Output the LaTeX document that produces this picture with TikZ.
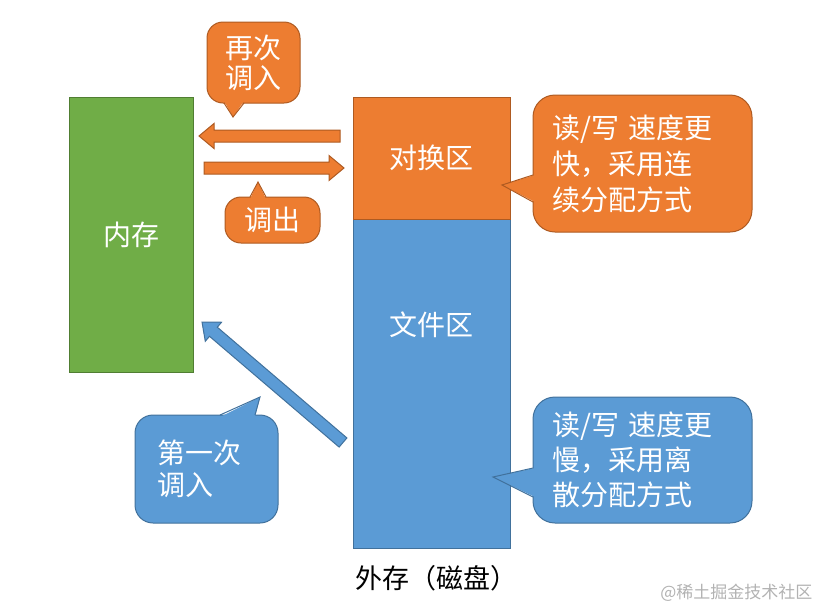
\documentclass[tikz,border=0pt]{standalone}
\usepackage{fontspec}
\newfontfamily\cjk{Noto Sans CJK SC}
\usetikzlibrary{calc}
\definecolor{memgreen}{HTML}{70AD47}
\definecolor{memgreenline}{HTML}{507E32}
\definecolor{swaporange}{HTML}{ED7D31}
\definecolor{swaporangeline}{HTML}{AE5A21}
\definecolor{fileblue}{HTML}{5B9BD5}
\definecolor{fileblueline}{HTML}{41719C}
\tikzset{
  block/.style={rectangle, fill=#1, draw=#1line, line width=1pt, text=white, inner sep=0pt, font=\cjk\fontsize{28}{34}\selectfont},
  bubble/.style={block=#1, rounded corners=16pt, align=left},
}
\newcommand\pointer[5]{%
  \fill[#1] ($(#2)+(#5)$) -- (#3) -- ($(#4)+(#5)$) -- cycle;
  \draw[#1line, line width=1pt] (#2) -- (#3) -- (#4);
}
\newcommand\blockarrow[3]{%
  \filldraw[fill=#1, draw=#1line, line width=1pt] let \p1=(#2), \p2=(#3),
    \n1={atan2(\y2-\y1,\x2-\x1)}, \n2={veclen(\x2-\x1,\y2-\y1)} in
    [shift={(\p1)}, rotate=\n1] (0pt,6pt) -- (\n2-15pt,6pt) -- (\n2-15pt,12.5pt) -- (\n2,0pt)
    -- (\n2-15pt,-12.5pt) -- (\n2-15pt,-6pt) -- (0pt,-6pt) -- cycle;
}
\begin{document}
\begin{tikzpicture}[x=1pt, y=-1pt, font=\cjk]
\useasboundingbox (0,0) rectangle (824,611);
\node[block=memgreen, minimum width=124pt, minimum height=275pt] (mem) at (131,234.5) {内存};
\node[block=fileblue, minimum width=157pt, minimum height=329pt] (file) at (431.5,383.5) {};
\node[block=swaporange, minimum width=157pt, minimum height=122pt] (swap) at (431.5,158) {对换区};
\node[text=white, font=\cjk\fontsize{28}{34}\selectfont] (filename) at (431.5,325) {文件区};
\node[font=\cjk\fontsize{27}{32}\selectfont] (disk) at (436,578) {外存（磁盘）};
\node[text=black!30, font=\cjk\fontsize{17}{20}\selectfont, anchor=east] (mark) at (816,593) {@稀土掘金技术社区};

\coordinate (backstart) at (340,136);
\coordinate (backend) at (199,136);
\coordinate (outstart) at (204,168);
\coordinate (outend) at (344,168);
\coordinate (firststart) at (343,442.5);
\coordinate (firstend) at (202,322);
\blockarrow{swaporange}{backstart}{backend}
\blockarrow{swaporange}{outstart}{outend}
\blockarrow{fileblue}{firststart}{firstend}

\node[bubble=swaporange, minimum width=93pt, minimum height=81pt, align=center, font=\cjk\fontsize{28}{30}\selectfont] (again) at (253.5,62.5) {再次\\调入};
\pointer{swaporange}{224,103}{233,117}{244,103}{0,-2}
\node[bubble=swaporange, minimum width=95pt, minimum height=46pt] (out) at (272.5,220) {调出};
\pointer{swaporange}{250,197}{258,182}{266,197}{0,2}
\node[bubble=swaporange, rounded corners=22pt, text width=180pt, minimum width=219pt, minimum height=137pt, font=\cjk\fontsize{28}{36}\selectfont] (fast) at (642.5,163.5) {读/写 速度更\\快，采用连\\续分配方式};
\pointer{swaporange}{533,175}{502,185}{533,202}{2,0}
\node[bubble=fileblue, rounded corners=22pt, text width=180pt, minimum width=219pt, minimum height=126pt, font=\cjk\fontsize{28}{35}\selectfont] (slow) at (642.5,460) {读/写 速度更\\慢，采用离\\散分配方式};
\pointer{fileblue}{533,468}{493,477}{533,497}{2,0}
\node[bubble=fileblue, rounded corners=18pt, text width=99pt, minimum width=143pt, minimum height=108pt, font=\cjk\fontsize{28}{32}\selectfont] (first) at (206.5,469) {第一次\\调入};
\pointer{fileblue}{220,415}{260,397}{255,415}{0,2}
\end{tikzpicture}
\end{document}
